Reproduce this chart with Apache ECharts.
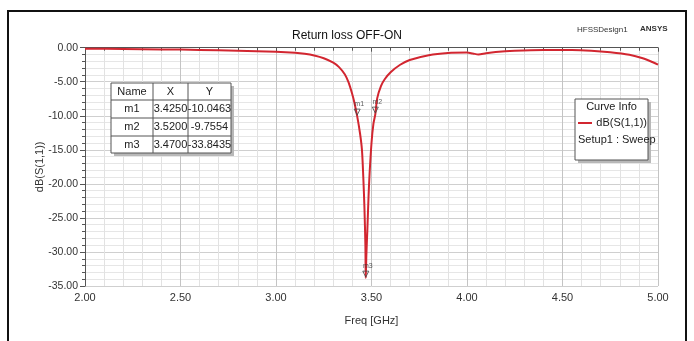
<!DOCTYPE html>
<html>
<head>
<meta charset="utf-8">
<script src="https://cdn.jsdelivr.net/npm/echarts@6/dist/echarts.min.js"></script>
<style>
  html, body { margin: 0; padding: 0; background: #fff; }
  #chart { width: 694px; height: 341px; }
</style>
</head>
<body>
<div id="chart"></div>
<script>
// S11 curve
const freqGHz = [2.00, 2.20, 2.40, 2.60, 2.80, 3.00, 3.10, 3.15, 3.20, 3.25, 3.30, 3.33, 3.36, 3.38, 3.40, 3.41,
  3.425, 3.44, 3.45, 3.457, 3.463, 3.468, 3.47, 3.473, 3.478, 3.485, 3.49, 3.50, 3.51, 3.52, 3.53, 3.55, 3.57,
  3.60, 3.65, 3.70, 3.80, 3.90, 4.00, 4.03, 4.06, 4.10, 4.15, 4.25, 4.40, 4.55, 4.65, 4.75, 4.85, 4.92, 4.97, 5.00];
const s11dB = [-0.15, -0.18, -0.25, -0.32, -0.45, -0.60, -0.75, -0.90, -1.15, -1.55, -2.2, -2.85, -3.9, -5.1, -6.9, -8.0,
  -10.05, -12.6, -15.0, -19.0, -23.5, -29.0, -33.84, -30.5, -27.0, -21.5, -18.5, -14.0, -11.2, -9.76, -7.4, -5.6, -4.6,
  -3.6, -2.5, -1.8, -1.1, -0.78, -0.72, -0.85, -1.0, -0.8, -0.62, -0.45, -0.35, -0.35, -0.45, -0.68, -1.05, -1.55, -2.1, -2.5];

// markers
const markerNames = ['m1', 'm2', 'm3'];
const markerX = [3.4250, 3.5200, 3.4700];
const markerY = [-10.0463, -9.7554, -33.8435];

const xTicks = [2.0, 2.5, 3.0, 3.5, 4.0, 4.5, 5.0];
const yTicks = [0, -5, -10, -15, -20, -25, -30, -35];

const chart = echarts.init(document.getElementById('chart'));
const font = '"Liberation Sans", Arial, sans-serif';
const Z = 100;

// marker table built with graphic
let tableEls = [];
const colX = [111, 153, 188, 231];
const rowY = [83, 100, 118, 136, 153];
tableEls.push({ type: 'rect', z: Z, shape: { x: colX[0] + 3, y: rowY[0] + 3, width: colX[3] - colX[0], height: rowY[4] - rowY[0] }, style: { fill: '#b8b8b8' } });
tableEls.push({ type: 'rect', z: Z, shape: { x: colX[0], y: rowY[0], width: colX[3] - colX[0], height: rowY[4] - rowY[0] }, style: { fill: '#fff', stroke: '#555', lineWidth: 1 } });
for (let i = 1; i < 4; i++) {
  tableEls.push({ type: 'line', z: Z, shape: { x1: colX[0], y1: rowY[i], x2: colX[3], y2: rowY[i] }, style: { stroke: '#555', lineWidth: 1 } });
}
for (let j = 1; j < 3; j++) {
  tableEls.push({ type: 'line', z: Z, shape: { x1: colX[j], y1: rowY[0], x2: colX[j], y2: rowY[4] }, style: { stroke: '#555', lineWidth: 1 } });
}
const rows = [['Name', 'X', 'Y']].concat(markerNames.map((n, i) => [n, markerX[i].toFixed(4), markerY[i].toFixed(4)]));
rows.forEach((r, i) => {
  r.forEach((t, j) => {
    tableEls.push({
      type: 'text', z: Z,
      style: { text: t, x: (colX[j] + colX[j + 1]) / 2, y: (rowY[i] + rowY[i + 1]) / 2, align: 'center', verticalAlign: 'middle', font: '11px ' + font, fill: '#222' }
    });
  });
});

const option = {
  animation: false,
  title: {
    text: 'Return loss OFF-ON',
    left: 'center',
    top: 25,
    textStyle: { fontFamily: font, fontSize: 12, fontWeight: 'normal', color: '#111' }
  },
  grid: { left: 85, right: 36, top: 47.7, bottom: 55 },
  xAxis: {
    type: 'value',
    min: 2, max: 5, interval: 0.5,
    name: 'Freq [GHz]',
    nameLocation: 'middle',
    nameGap: 29,
    nameTextStyle: { fontFamily: font, fontSize: 11, color: '#333' },
    axisLine: { show: true, lineStyle: { color: '#555' } },
    axisTick: { show: true, length: 4, lineStyle: { color: '#555' } },
    minorTick: { show: true, splitNumber: 5, length: 3, lineStyle: { color: '#555' } },
    axisLabel: { formatter: v => v.toFixed(2), fontFamily: font, fontSize: 11, color: '#333', margin: 6, customValues: xTicks },
    splitLine: { show: true, lineStyle: { color: '#c4c4c4' } },
    minorSplitLine: { show: true, lineStyle: { color: '#e2e2e2' } }
  },
  yAxis: {
    type: 'value',
    min: -35, max: 0, interval: 5,
    name: 'dB(S(1,1))',
    nameLocation: 'middle',
    nameGap: 40,
    nameMoveOverlap: false,
    nameTextStyle: { fontFamily: font, fontSize: 11, color: '#333' },
    axisLine: { show: true, lineStyle: { color: '#555' } },
    axisTick: { show: true, length: 5, lineStyle: { color: '#555' } },
    minorTick: { show: true, splitNumber: 5, length: 3, lineStyle: { color: '#555' } },
    axisLabel: { formatter: v => v.toFixed(2), fontFamily: font, fontSize: 10.5, color: '#333', margin: 7, customValues: yTicks },
    splitLine: { show: true, lineStyle: { color: '#cfcfcf' } },
    minorSplitLine: { show: true, lineStyle: { color: '#e6e6e6' } }
  },
  series: [
    {
      name: 'dB(S(1,1))',
      type: 'line',
      data: freqGHz.map((f, i) => [f, s11dB[i]]),
      smooth: 0.3,
      showSymbol: false,
      lineStyle: { color: '#d22630', width: 2 },
      z: 3
    },
    {
      name: 'markers',
      type: 'scatter',
      data: markerNames.map((n, i) => ({ name: n, value: [markerX[i], markerY[i]] })),
      symbol: 'triangle',
      symbolRotate: 180,
      symbolSize: [6, 6],
      symbolOffset: [0, -4],
      itemStyle: { color: 'rgba(255,255,255,0)', borderColor: '#444', borderWidth: 1 },
      label: { show: true, formatter: p => p.name, position: 'top', distance: 0, offset: [2, -1], fontSize: 7, fontFamily: font, color: '#333' },
      z: 4
    }
  ],
  graphic: [
    { type: 'rect', z: Z, shape: { x: 8, y: 11, width: 678, height: 336 }, style: { fill: 'none', stroke: '#111', lineWidth: 2 } },
    { type: 'text', z: Z, style: { text: 'HFSSDesign1', x: 577, y: 30, verticalAlign: 'middle', font: '8px ' + font, fill: '#333' } },
    { type: 'text', z: Z, style: { text: 'ANSYS', x: 640, y: 29, verticalAlign: 'middle', font: 'bold 8px ' + font, fill: '#333' } },
    { type: 'group', z: Z, children: tableEls },
    { type: 'rect', z: Z, shape: { x: 578, y: 102, width: 73, height: 61 }, style: { fill: '#b8b8b8' } },
    { type: 'rect', z: Z, shape: { x: 575, y: 99, width: 73, height: 61 }, style: { fill: '#fff', stroke: '#555', lineWidth: 1 } },
    { type: 'text', z: Z, style: { text: 'Curve Info', x: 611.5, y: 107, align: 'center', verticalAlign: 'middle', font: '11px ' + font, fill: '#222' } },
    { type: 'line', z: Z, shape: { x1: 578, y1: 123, x2: 592, y2: 123 }, style: { stroke: '#d22630', lineWidth: 2 } },
    { type: 'text', z: Z, style: { text: 'dB(S(1,1))', x: 647, y: 123, align: 'right', verticalAlign: 'middle', font: '11px ' + font, fill: '#222' } },
    { type: 'text', z: Z, style: { text: 'Setup1 : Sweep', x: 578, y: 140, verticalAlign: 'middle', font: '11px ' + font, fill: '#222' } }
  ]
};
chart.setOption(option);
</script>
</body>
</html>
